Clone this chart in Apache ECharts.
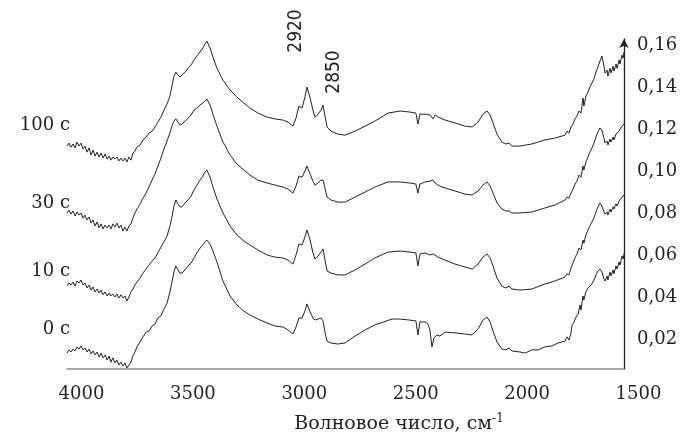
<!DOCTYPE html>
<html>
<head>
<meta charset="utf-8">
<script src="https://cdn.jsdelivr.net/npm/echarts@6/dist/echarts.min.js"></script>
<style>
  html, body { margin: 0; padding: 0; background: #fff; }
  #chart { width: 690px; height: 434px; }
</style>
</head>
<body>
<div id="chart"></div>
<script>
// ИК-спектры: [волновое число, поглощение]
var spectrum100 = [[4000,0.1119],[3991,0.1133],[3982,0.1114],[3973,0.1129],[3964,0.1110],[3955,0.1138],[3946,0.1119],[3937,0.1133],[3928,0.1105],[3919,0.1119],[3910,0.1090],[3901,0.1110],[3892,0.1076],[3883,0.11],[3874,0.1071],[3865,0.1090],[3856,0.1067],[3847,0.1086],[3838,0.1062],[3829,0.1081],[3820,0.1057],[3811,0.1071],[3803,0.1052],[3794,0.1067],[3785,0.1057],[3776,0.1067],[3767,0.1048],[3758,0.1062],[3749,0.1048],[3740,0.1062],[3731,0.1043],[3722,0.1067],[3713,0.1052],[3704,0.1086],[3695,0.1095],[3686,0.1114],[3672,0.1124],[3659,0.1148],[3645,0.1162],[3632,0.1181],[3618,0.1190],[3605,0.1210],[3592,0.1233],[3578,0.1257],[3565,0.1290],[3551,0.1319],[3538,0.1357],[3529,0.1405],[3520,0.1452],[3511,0.1471],[3502,0.1457],[3493,0.1448],[3484,0.1457],[3470,0.1471],[3457,0.1490],[3443,0.1505],[3430,0.1529],[3417,0.1548],[3403,0.1567],[3390,0.1586],[3381,0.1605],[3372,0.1619],[3358,0.1586],[3345,0.1543],[3327,0.1490],[3300,0.1433],[3268,0.1386],[3237,0.1352],[3206,0.1324],[3179,0.1300],[3143,0.1276],[3102,0.1257],[3066,0.1248],[3031,0.1243],[3008,0.1233],[2986,0.1214],[2972,0.1252],[2959,0.1310],[2945,0.1300],[2932,0.1352],[2923,0.14],[2909,0.1348],[2896,0.1290],[2887,0.1257],[2873,0.1271],[2860,0.1290],[2851,0.1314],[2842,0.1262],[2833,0.1210],[2815,0.1190],[2784,0.1176],[2752,0.1171],[2707,0.1190],[2662,0.1214],[2618,0.1238],[2559,0.1276],[2505,0.1286],[2461,0.1281],[2434,0.1276],[2425,0.1224],[2416,0.1271],[2393,0.1271],[2371,0.1267],[2357,0.1248],[2348,0.1267],[2335,0.1257],[2303,0.1243],[2259,0.1229],[2214,0.1214],[2182,0.1210],[2155,0.1233],[2133,0.1271],[2115,0.1286],[2101,0.1267],[2088,0.1229],[2070,0.1176],[2048,0.1138],[2030,0.1129],[2016,0.1133],[2003,0.1119],[1967,0.1119],[1913,0.1129],[1855,0.1148],[1810,0.1157],[1765,0.1171],[1756,0.1190],[1747,0.1181],[1738,0.1210],[1729,0.1224],[1720,0.1248],[1711,0.1262],[1702,0.1286],[1693,0.1276],[1684,0.1348],[1680,0.1310],[1671,0.1357],[1662,0.1376],[1653,0.14],[1644,0.1419],[1635,0.1438],[1626,0.1471],[1617,0.1495],[1608,0.1524],[1599,0.1548],[1590,0.1500],[1585,0.1467],[1576,0.1481],[1572,0.1452],[1563,0.1490],[1558,0.1467],[1549,0.1500],[1545,0.1476],[1536,0.1510],[1531,0.1490],[1522,0.1529],[1518,0.1510],[1509,0.1552],[1504,0.1538],[1500,0.1567]];

var spectrum30 = [[4000,0.08],[3991,0.0814],[3982,0.0795],[3973,0.0810],[3964,0.0786],[3955,0.0805],[3946,0.0790],[3937,0.08],[3928,0.0776],[3919,0.0790],[3910,0.0767],[3901,0.0781],[3892,0.0752],[3883,0.0767],[3874,0.0738],[3865,0.0757],[3856,0.0729],[3847,0.0748],[3838,0.0724],[3829,0.0743],[3820,0.0729],[3811,0.0743],[3803,0.0724],[3794,0.0748],[3785,0.0733],[3776,0.0752],[3767,0.0729],[3758,0.0743],[3749,0.0714],[3740,0.0733],[3731,0.0714],[3722,0.0738],[3713,0.0748],[3704,0.0776],[3695,0.08],[3686,0.0819],[3672,0.0843],[3659,0.0871],[3645,0.0895],[3632,0.0924],[3618,0.0957],[3605,0.0986],[3592,0.1024],[3578,0.1062],[3565,0.1105],[3551,0.1143],[3538,0.1181],[3529,0.1214],[3520,0.1238],[3511,0.1248],[3502,0.1233],[3493,0.1219],[3484,0.1224],[3470,0.1238],[3457,0.1252],[3443,0.1267],[3430,0.1290],[3417,0.1300],[3403,0.1314],[3390,0.1324],[3381,0.1333],[3372,0.1343],[3358,0.1314],[3345,0.1271],[3327,0.1214],[3300,0.1138],[3268,0.1076],[3237,0.1033],[3206,0.1005],[3179,0.0981],[3143,0.0957],[3102,0.0943],[3066,0.0933],[3031,0.0924],[3008,0.0914],[2986,0.0895],[2972,0.0929],[2959,0.0976],[2945,0.0971],[2932,0.1],[2923,0.1024],[2909,0.0986],[2896,0.0952],[2887,0.0933],[2873,0.0943],[2860,0.0957],[2851,0.0957],[2842,0.0919],[2833,0.0876],[2815,0.0862],[2784,0.0852],[2752,0.0852],[2707,0.0876],[2662,0.09],[2618,0.0924],[2559,0.0948],[2505,0.0948],[2461,0.0943],[2434,0.0938],[2425,0.0895],[2416,0.0938],[2393,0.0948],[2371,0.0952],[2357,0.0957],[2348,0.0943],[2335,0.0933],[2317,0.0924],[2259,0.0905],[2214,0.0890],[2182,0.0886],[2155,0.0905],[2133,0.0933],[2115,0.0948],[2101,0.0929],[2088,0.0895],[2070,0.0848],[2048,0.0819],[2030,0.0810],[2016,0.0810],[2003,0.08],[1967,0.08],[1913,0.0805],[1855,0.0824],[1810,0.0838],[1765,0.0862],[1756,0.0876],[1747,0.0871],[1738,0.0895],[1729,0.0914],[1720,0.0938],[1711,0.0952],[1702,0.0981],[1693,0.0971],[1684,0.1024],[1680,0.1005],[1671,0.1043],[1662,0.1067],[1653,0.1090],[1644,0.1110],[1635,0.1133],[1626,0.1162],[1617,0.1186],[1608,0.1205],[1599,0.1195],[1590,0.1157],[1585,0.1133],[1576,0.1143],[1572,0.1124],[1563,0.1152],[1558,0.1138],[1549,0.1162],[1545,0.1148],[1536,0.1176],[1531,0.1167],[1522,0.1190],[1518,0.1181],[1509,0.1214],[1504,0.1205],[1500,0.1224]];

var spectrum10 = [[4000,0.0452],[3991,0.0467],[3982,0.0457],[3973,0.0471],[3964,0.0452],[3955,0.0476],[3946,0.0467],[3937,0.0481],[3928,0.0457],[3919,0.0467],[3910,0.0443],[3901,0.0457],[3892,0.0433],[3883,0.0448],[3874,0.0424],[3865,0.0438],[3856,0.0419],[3847,0.0433],[3838,0.0410],[3829,0.0424],[3820,0.0405],[3811,0.0419],[3803,0.0405],[3794,0.0414],[3785,0.04],[3776,0.0414],[3767,0.0395],[3758,0.0410],[3749,0.0395],[3740,0.0405],[3731,0.0381],[3722,0.04],[3713,0.0424],[3704,0.0438],[3695,0.0457],[3686,0.0471],[3672,0.0490],[3659,0.0514],[3645,0.0533],[3632,0.0552],[3618,0.0571],[3605,0.0586],[3592,0.0610],[3578,0.0638],[3565,0.0662],[3551,0.0690],[3538,0.0738],[3529,0.0781],[3520,0.0833],[3511,0.0862],[3502,0.0843],[3493,0.0829],[3484,0.0829],[3470,0.0848],[3457,0.0862],[3443,0.0881],[3430,0.0910],[3417,0.0933],[3403,0.0957],[3390,0.0976],[3381,0.0995],[3372,0.1005],[3358,0.0971],[3345,0.0924],[3327,0.0867],[3300,0.08],[3268,0.0738],[3237,0.0695],[3206,0.0667],[3179,0.0648],[3143,0.0624],[3102,0.06],[3066,0.0590],[3031,0.0586],[3008,0.0576],[2986,0.0557],[2972,0.06],[2959,0.0652],[2945,0.0648],[2932,0.0686],[2923,0.0719],[2909,0.0671],[2896,0.0610],[2887,0.0581],[2873,0.0595],[2860,0.0614],[2851,0.0629],[2842,0.0576],[2833,0.0524],[2815,0.0514],[2784,0.0505],[2752,0.0505],[2707,0.0529],[2662,0.0557],[2618,0.0586],[2559,0.0614],[2505,0.0619],[2461,0.0614],[2434,0.0610],[2425,0.0548],[2416,0.0605],[2393,0.0610],[2371,0.06],[2357,0.0605],[2335,0.0590],[2303,0.0576],[2259,0.0557],[2214,0.0543],[2182,0.0533],[2155,0.0557],[2133,0.0590],[2115,0.0605],[2101,0.0586],[2088,0.0548],[2070,0.0490],[2048,0.0452],[2030,0.0443],[2016,0.0452],[2003,0.0438],[1967,0.0433],[1913,0.0438],[1855,0.0462],[1810,0.0476],[1765,0.0495],[1756,0.0510],[1747,0.0505],[1738,0.0538],[1729,0.0562],[1720,0.0586],[1711,0.0605],[1702,0.0633],[1693,0.0624],[1684,0.0671],[1680,0.0657],[1671,0.0695],[1662,0.0719],[1653,0.0738],[1644,0.0757],[1635,0.0776],[1626,0.0805],[1617,0.0829],[1608,0.0848],[1599,0.0833],[1590,0.0805],[1585,0.0795],[1576,0.0805],[1572,0.0790],[1563,0.0819],[1558,0.0805],[1549,0.0829],[1545,0.0819],[1536,0.0843],[1531,0.0833],[1522,0.0857],[1518,0.0848],[1509,0.0876],[1504,0.0867],[1500,0.0886]];

var spectrum0 = [[4000,0.0133],[3991,0.0148],[3982,0.0138],[3973,0.0152],[3964,0.0143],[3955,0.0162],[3946,0.0152],[3937,0.0167],[3928,0.0148],[3919,0.0157],[3910,0.0138],[3901,0.0152],[3892,0.0129],[3883,0.0143],[3874,0.0124],[3865,0.0138],[3856,0.0114],[3847,0.0133],[3838,0.0110],[3829,0.0124],[3820,0.01],[3811,0.0119],[3803,0.0090],[3794,0.0110],[3785,0.0086],[3776,0.01],[3767,0.0076],[3758,0.0090],[3749,0.0071],[3740,0.0086],[3731,0.0062],[3722,0.0076],[3713,0.0090],[3704,0.0119],[3695,0.0138],[3686,0.0162],[3672,0.0186],[3659,0.0210],[3645,0.0233],[3632,0.0238],[3618,0.0262],[3605,0.0271],[3592,0.03],[3578,0.0310],[3565,0.0343],[3551,0.0371],[3538,0.0424],[3529,0.0471],[3520,0.0519],[3511,0.0548],[3502,0.0529],[3493,0.0514],[3484,0.0514],[3470,0.0529],[3457,0.0548],[3443,0.0562],[3430,0.0586],[3417,0.0610],[3403,0.0633],[3390,0.0648],[3381,0.0662],[3372,0.0671],[3358,0.0652],[3345,0.0619],[3327,0.0567],[3300,0.0476],[3268,0.0405],[3237,0.0362],[3206,0.0333],[3179,0.0314],[3143,0.0295],[3102,0.0276],[3066,0.0262],[3031,0.0257],[3008,0.0243],[2986,0.0224],[2972,0.0257],[2959,0.03],[2945,0.03],[2932,0.0333],[2923,0.0367],[2909,0.0329],[2896,0.03],[2887,0.0290],[2873,0.0295],[2860,0.03],[2851,0.0286],[2842,0.0233],[2833,0.0190],[2815,0.0181],[2784,0.0176],[2752,0.0181],[2707,0.0214],[2662,0.0243],[2618,0.0267],[2541,0.0295],[2505,0.0295],[2461,0.0290],[2434,0.0286],[2425,0.0219],[2416,0.0281],[2393,0.0281],[2380,0.0271],[2371,0.0243],[2362,0.0162],[2353,0.0205],[2339,0.0219],[2326,0.0214],[2303,0.0233],[2259,0.0229],[2214,0.0224],[2182,0.0219],[2155,0.0248],[2133,0.0290],[2115,0.0305],[2101,0.0281],[2088,0.0238],[2070,0.0186],[2048,0.0152],[2030,0.0148],[2016,0.0157],[2003,0.0143],[1967,0.0138],[1944,0.0133],[1913,0.0148],[1886,0.0148],[1855,0.0162],[1823,0.0167],[1796,0.0181],[1765,0.0190],[1756,0.0210],[1747,0.0195],[1738,0.0229],[1733,0.0267],[1724,0.0281],[1715,0.0305],[1706,0.0319],[1697,0.0362],[1693,0.0338],[1684,0.0405],[1680,0.0386],[1671,0.0424],[1662,0.0443],[1653,0.0452],[1644,0.0462],[1635,0.0481],[1626,0.0505],[1617,0.0524],[1608,0.0533],[1599,0.0519],[1590,0.0486],[1585,0.0476],[1576,0.05],[1572,0.0481],[1563,0.0519],[1558,0.05],[1549,0.0529],[1545,0.0510],[1536,0.0548],[1531,0.0533],[1522,0.0567],[1518,0.0552],[1509,0.0595],[1504,0.0581],[1500,0.0605]];

var seriesNames = ["100 с", "30 с", "10 с", "0 с"];
var yTicks = [0.02, 0.04, 0.06, 0.08, 0.10, 0.12, 0.14, 0.16];
var peakLabels = ["2920", "2850"];

var ink = "#231f20";
var serif = "DejaVu Serif";
var narrow = "'Liberation Sans Narrow', 'DejaVu Sans Condensed', 'Liberation Sans', sans-serif";

var chart = echarts.init(document.getElementById("chart"));

function spectrumSeries(name, data) {
  return {
    name: name,
    type: "line",
    data: data,
    symbol: "none",
    animation: false,
    lineStyle: { color: ink, width: 1 }
  };
}

function sideLabel(text, y) {
  return {
    type: "text", x: 70, y: y,
    style: { text: text, align: "right", verticalAlign: "middle", fill: ink, font: "18px " + serif }
  };
}

var option = {
  backgroundColor: "#fff",
  grid: { left: 67, right: 66, top: 39, bottom: 65 },
  xAxis: {
    type: "value",
    inverse: true,
    min: 1500,
    max: 4000,
    interval: 500,
    axisLine: { onZero: false, lineStyle: { color: "#8c8c8c", width: 1.5 } },
    axisTick: { show: false },
    splitLine: { show: false },
    axisLabel: {
      showMinLabel: true,
      showMaxLabel: true,
      margin: 16,
      padding: [0, 0, 0, 29],
      color: ink,
      fontFamily: serif,
      fontSize: 18,
      formatter: function (v) { return String(v); }
    }
  },
  yAxis: {
    type: "value",
    position: "right",
    min: 0.0057,
    max: 0.1629,
    axisLine: {
      show: true,
      symbol: ["none", "arrow"],
      symbolSize: [7, 9],
      lineStyle: { color: ink, width: 1.3 }
    },
    axisTick: { show: false },
    splitLine: { show: false },
    axisLabel: {
      customValues: yTicks,
      margin: 13,
      color: ink,
      fontFamily: serif,
      fontSize: 18,
      formatter: function (v) { return v.toFixed(2).replace(".", ","); }
    }
  },
  series: [
    spectrumSeries(seriesNames[0], spectrum100),
    spectrumSeries(seriesNames[1], spectrum30),
    spectrumSeries(seriesNames[2], spectrum10),
    spectrumSeries(seriesNames[3], spectrum0)
  ],
  graphic: [
    sideLabel(seriesNames[0], 125),
    sideLabel(seriesNames[1], 203),
    sideLabel(seriesNames[2], 271),
    sideLabel(seriesNames[3], 329),
    { type: "text", x: 296, y: 31, rotation: Math.PI / 2, style: { text: peakLabels[0], align: "center", verticalAlign: "middle", fill: ink, font: "19px " + narrow } },
    { type: "text", x: 334, y: 72, rotation: Math.PI / 2, style: { text: peakLabels[1], align: "center", verticalAlign: "middle", fill: ink, font: "19px " + narrow } },
    {
      type: "text", x: 399, y: 424,
      style: {
        text: "{a|Волновое число, см}{b|-1}",
        align: "center", verticalAlign: "middle", fill: ink,
        rich: {
          a: { fontFamily: serif, fontSize: 19, fill: ink },
          b: { fontFamily: serif, fontSize: 12, fill: ink, padding: [0, 0, 10, 0] }
        }
      }
    }
  ]
};

chart.setOption(option);
</script>
</body>
</html>
